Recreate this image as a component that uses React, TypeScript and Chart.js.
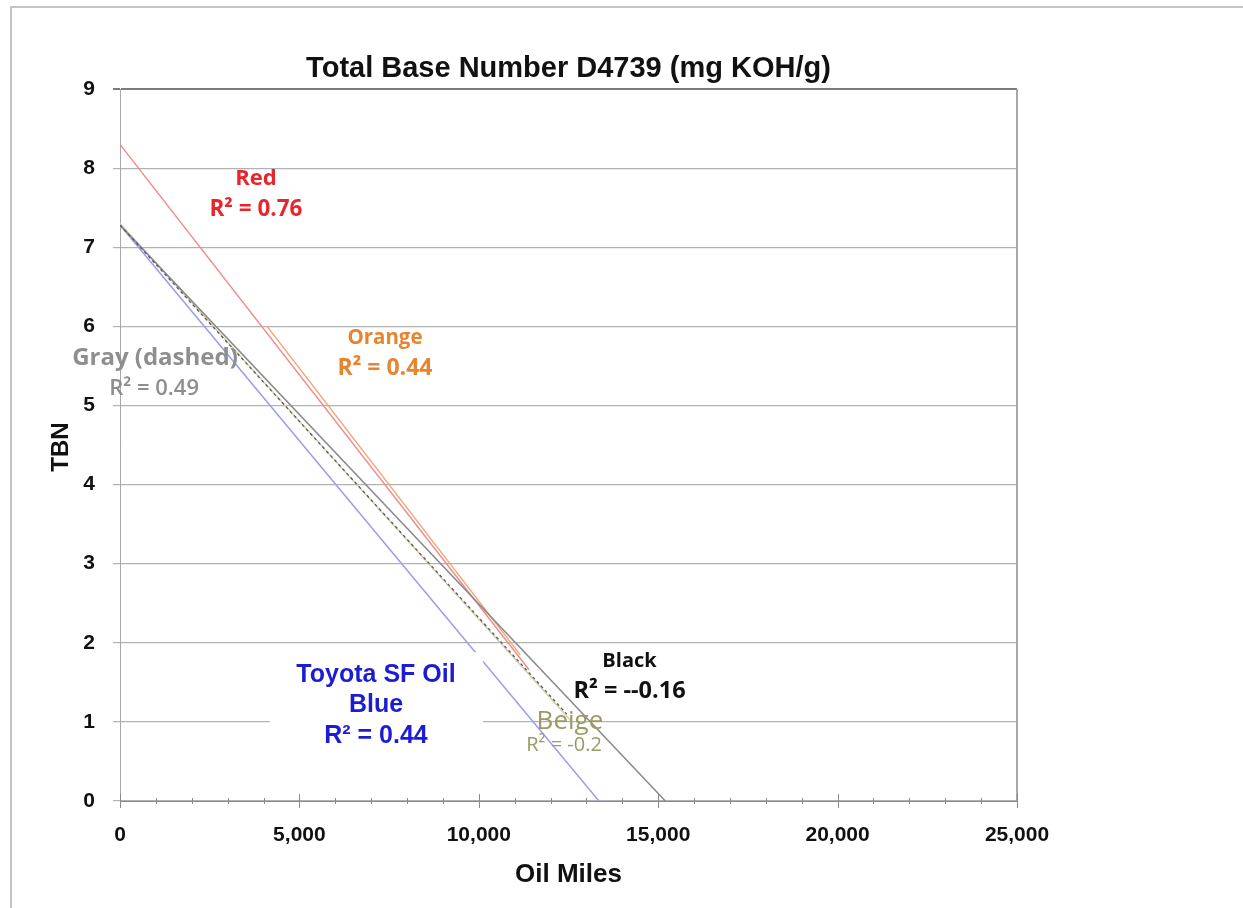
import React, { useEffect, useRef } from "react";
import { Chart, registerables } from "chart.js";

Chart.register(...registerables);

// ---- data ----
const X_TICK_MAX = 25000;
const Y_TICK_MAX = 9;

const RED_MILES = [0, 11400];
const RED_TBN = [8.3, 1.66];

const ORANGE_MILES = [4100, 11150];
const ORANGE_TBN = [6.0, 1.85];

const BLACK_MILES = [0, 15200];
const BLACK_TBN = [7.28, 0];

const BEIGE_MILES = [0, 12600];
const BEIGE_TBN = [7.3, 1.0];

const GRAY_MILES = [0, 12450];
const GRAY_TBN = [7.28, 1.1];

const BLUE_MILES = [0, 13350];
const BLUE_TBN = [7.28, 0];

const TITLE = "Total Base Number D4739 (mg KOH/g)";
const X_TITLE = "Oil Miles";
const Y_TITLE = "TBN";

// ---- annotation labels (data coordinates) ----
const OS = "'Open Sans', sans-serif";
const LABELS = [
  { text: "Red", x: 3790, y: 7.86, color: "#e8252c", size: 22, weight: "bold" },
  { text: "R² = 0.76", x: 3790, y: 7.48, color: "#e8252c", size: 22.5, weight: "bold" },
  { text: "Orange", x: 7385, y: 5.85, color: "#e8842e", size: 20.5, weight: "bold" },
  { text: "R² = 0.44", x: 7385, y: 5.47, color: "#e8842e", size: 23, weight: "bold" },
  { text: "Gray (dashed)", x: 975, y: 5.6, color: "#8e8e8e", size: 24, weight: "bold" },
  { text: "R² = 0.49", x: 950, y: 5.21, color: "#8e8e8e", size: 22, weight: "600" },
  { text: "Black", x: 14200, y: 1.77, color: "#111111", size: 20, weight: "bold" },
  { text: "R² = --0.16", x: 14200, y: 1.39, color: "#111111", size: 23.5, weight: "bold" },
  { text: "Beige", x: 12540, y: 1.0, color: "#9c9a62", size: 26, weight: "normal" },
  { text: "R² = -0.2", x: 12375, y: 0.7, color: "#9c9a62", size: 20, weight: "normal" },
];

const BOX = { x0: 4180, x1: 10120, y0: 1.88, y1: 0.62 };
const BOX_LABELS = [
  { text: "Toyota SF Oil", x: 7135, y: 1.59 },
  { text: "Blue", x: 7135, y: 1.21 },
  { text: "R² = 0.44", x: 7135, y: 0.82 },
];

const SANS = "'Liberation Sans', Arial, sans-serif";

function pts(xs: number[], ys: number[]) {
  return xs.map((x, i) => ({ x, y: ys[i] }));
}

const overlay = {
  id: "overlay",
  afterDatasetsDraw(chart: any) {
    const { ctx, chartArea, scales } = chart;
    const xs = scales.x;
    const ys = scales.y;
    ctx.save();
    // right border
    ctx.strokeStyle = "#a8a8a8";
    ctx.lineWidth = 2;
    ctx.beginPath();
    ctx.moveTo(chartArea.right, chartArea.top);
    ctx.lineTo(chartArea.right, chartArea.bottom);
    ctx.stroke();
    // x tick marks crossing the axis
    ctx.strokeStyle = "#8a8a8a";
    ctx.lineWidth = 1;
    for (let v = 0; v <= X_TICK_MAX; v += 1000) {
      const px = Math.round(xs.getPixelForValue(v)) + 0.5;
      const major = v % 5000 === 0;
      const h = major ? 7 : 3;
      ctx.beginPath();
      ctx.moveTo(px, chartArea.bottom - h);
      ctx.lineTo(px, chartArea.bottom + h);
      ctx.stroke();
    }
    // white label box
    const bx0 = xs.getPixelForValue(BOX.x0);
    const bx1 = xs.getPixelForValue(BOX.x1);
    const by0 = ys.getPixelForValue(BOX.y0);
    const by1 = ys.getPixelForValue(BOX.y1);
    ctx.fillStyle = "#ffffff";
    ctx.fillRect(bx0, by0, bx1 - bx0, by1 - by0);
    ctx.textAlign = "center";
    ctx.textBaseline = "middle";
    ctx.fillStyle = "#1c1cd4";
    ctx.font = `bold 25px ${SANS}`;
    BOX_LABELS.forEach((l) => {
      ctx.fillText(l.text, xs.getPixelForValue(l.x), ys.getPixelForValue(l.y));
    });
    LABELS.forEach((l) => {
      ctx.fillStyle = l.color;
      ctx.font = `${l.weight} ${l.size}px ${OS}`;
      ctx.fillText(l.text, xs.getPixelForValue(l.x), ys.getPixelForValue(l.y));
    });
    // titles
    ctx.fillStyle = "#111111";
    ctx.font = `bold 29px ${SANS}`;
    ctx.fillText(TITLE, (chartArea.left + chartArea.right) / 2, 69);
    ctx.font = `bold 26px ${SANS}`;
    ctx.fillText(X_TITLE, (chartArea.left + chartArea.right) / 2, 875);
    ctx.save();
    ctx.translate(61, (chartArea.top + chartArea.bottom) / 2 + 2);
    ctx.rotate(-Math.PI / 2);
    ctx.font = `bold 24px ${SANS}`;
    ctx.fillText(Y_TITLE, 0, 0);
    ctx.restore();
    // outer frame
    ctx.strokeStyle = "#c4c4c4";
    ctx.lineWidth = 2;
    ctx.beginPath();
    ctx.moveTo(11, 920);
    ctx.lineTo(11, 7);
    ctx.lineTo(1260, 7);
    ctx.stroke();
    ctx.restore();
  },
};

export default function App() {
  const ref = useRef<HTMLCanvasElement | null>(null);
  useEffect(() => {
    if (!ref.current) return;
    const line = (data: any, color: string, extra: any = {}) => ({
      data,
      borderColor: color,
      backgroundColor: color,
      borderWidth: 1.5,
      showLine: true,
      pointRadius: 0,
      fill: false,
      ...extra,
    });
    const chart = new Chart(ref.current, {
      type: "scatter",
      data: {
        datasets: [
          line(pts(GRAY_MILES, GRAY_TBN), "#5a5a5a", { borderDash: [3, 3], borderWidth: 1.3 }),
          line(pts(BLACK_MILES, BLACK_TBN), "#8a8a8a"),
          line(pts(BEIGE_MILES, BEIGE_TBN), "#d3cfae"),
          line(pts(BLUE_MILES, BLUE_TBN), "#9c9cf0"),
          line(pts(RED_MILES, RED_TBN), "#f08c8c"),
          line(pts(ORANGE_MILES, ORANGE_TBN), "#f2a57c"),
        ],
      },
      options: {
        animation: false,
        responsive: false,
        maintainAspectRatio: false,
        layout: { padding: { top: 89, right: 226, left: 0, bottom: 0 } },
        plugins: { legend: { display: false }, title: { display: false }, tooltip: { enabled: false } },
        scales: {
          x: {
            type: "linear",
            min: 0,
            max: X_TICK_MAX,
            afterFit: (s: any) => { s.height = 107; },
            ticks: {
              stepSize: 5000,
              padding: 22,
              color: "#111111",
              font: { family: SANS, size: 21, weight: "bold" },
              callback: (v: any) => Number(v).toLocaleString("en-US"),
            },
            grid: { drawOnChartArea: false, drawTicks: false },
            border: { display: true, color: "#8a8a8a", width: 1 },
          },
          y: {
            type: "linear",
            min: 0,
            max: Y_TICK_MAX,
            afterFit: (s: any) => { s.width = 120; },
            ticks: {
              stepSize: 1,
              padding: 18,
              color: "#111111",
              font: { family: SANS, size: 21, weight: "bold" },
            },
            grid: {
              color: (c: any) => (c.tick && c.tick.value === Y_TICK_MAX ? "#7c7c7c" : "#b2b2b2"),
              lineWidth: (c: any) => (c.tick && c.tick.value === Y_TICK_MAX ? 2 : 1.2),
              tickLength: 7,
              drawTicks: true,
            },
            border: { display: true, color: "#a8a8a8", width: 1 },
          },
        },
      },
      plugins: [overlay],
    } as any);
    return () => chart.destroy();
  }, []);
  return (
    <div style={{ position: "absolute", left: 0, top: 0, width: 1243, height: 908, background: "#fff" }}>
      <canvas ref={ref} width={1243} height={908} style={{ width: 1243, height: 908, display: "block" }} />
    </div>
  );
}
